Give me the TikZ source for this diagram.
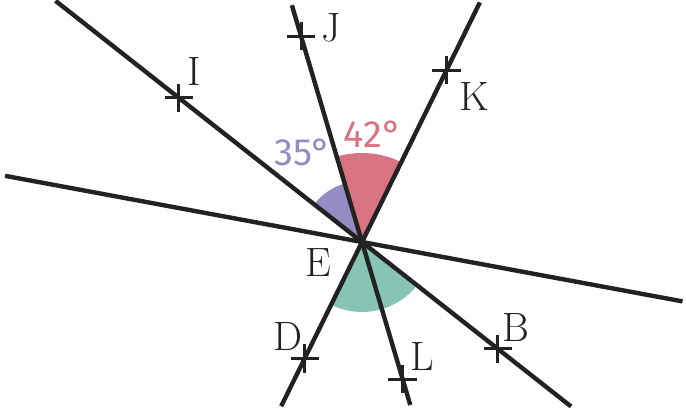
\documentclass[tikz,border=0pt]{standalone}
\usepackage{fontspec}
\setsansfont{Fira Sans}
\usepackage{tikz}
\usetikzlibrary{calc,shapes.misc}
\definecolor{ink}{RGB}{34,34,34}
\definecolor{lavender}{RGB}{150,140,196}
\definecolor{rose}{RGB}{216,116,130}
\definecolor{mint}{RGB}{135,196,180}

\begin{document}
\begin{tikzpicture}[x=0.5pt,y=0.5pt,line width=2.2pt,draw=ink,
    every node/.style={text=ink,font=\fontsize{20.5}{24}\selectfont},
    tick/.style={draw=ink,cross out,rotate=45,minimum size=8.5pt,inner sep=0pt,line width=1.5pt},
    deg/.style={font=\sffamily\fontsize{19}{22}\selectfont}]
  \useasboundingbox (0,0) rectangle (686,411);

  \coordinate (E) at (362,169);

  % angle sectors
  \fill[lavender] (E) -- ++(106.5:61) arc[start angle=106.5,end angle=141.8,radius=61] -- cycle;
  \fill[rose] (E) -- ++(63.8:89) arc[start angle=63.8,end angle=106.5,radius=89] -- cycle;
  \fill[mint] (E) -- ++(-116.2:70) arc[start angle=-116.2,end angle=-38.2,radius=70] -- cycle;

  % line ends
  \coordinate (w) at ($(E)+(169.5:363)$);
  \coordinate (e) at ($(E)+(-10.5:326)$);
  \coordinate (ib) at ($(E)+(141.8:390)$);
  \coordinate (bb) at ($(E)+(-38.2:266)$);
  \coordinate (jb) at ($(E)+(106.5:247)$);
  \coordinate (lb) at ($(E)+(-73.5:170)$);
  \coordinate (kb) at ($(E)+(63.8:267)$);
  \coordinate (db) at ($(E)+(-116.2:183)$);

  \draw (w) -- (e);
  \draw (ib) -- (bb);
  \draw (jb) -- (lb);
  \draw (kb) -- (db);

  % points
  \node[tick] (I) at ($(E)+(141.8:232.9)$) {};
  \node[tick] (J) at ($(E)+(106.5:214.6)$) {};
  \node[tick] (K) at ($(E)+(63.8:191.4)$) {};
  \node[tick] (B) at ($(E)+(-38.2:172.9)$) {};
  \node[tick] (L) at ($(E)+(-73.5:143)$) {};
  \node[tick] (D) at ($(E)+(-116.2:129.7)$) {};

  \node (nI) at (194,339) {I};
  \node (nJ) at (331,383) {J};
  \node (nK) at (474,314) {K};
  \node (nE) at (318,148) {E};
  \node (nD) at (288,74) {D};
  \node (nL) at (422,54) {L};
  \node (nB) at (516,83) {B};

  \node[deg,text=lavender] (a35) at (303,259) {35°};
  \node[deg,text=rose] (a42) at (373,277) {42°};
\end{tikzpicture}
\end{document}
